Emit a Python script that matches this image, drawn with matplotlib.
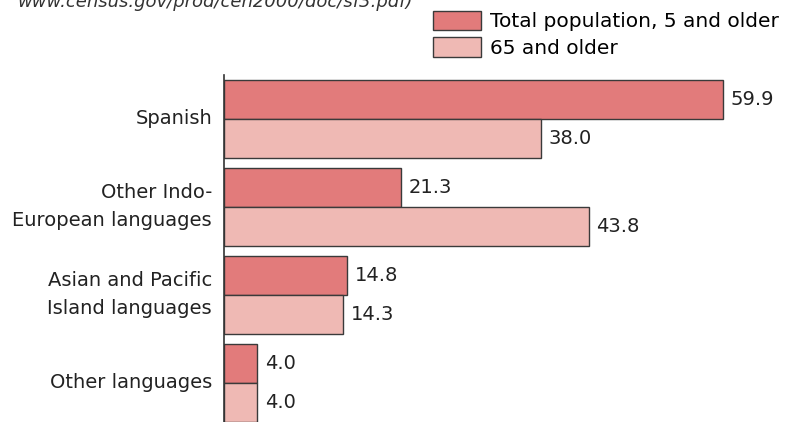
import matplotlib
matplotlib.use("Agg")
import matplotlib.pyplot as plt
import numpy as np

categories = ["Spanish", "Other Indo-\nEuropean languages", "Asian and Pacific\nIsland languages", "Other languages"]
total_5_older = [59.9, 21.3, 14.8, 4.0]
age_65_older = [38.0, 43.8, 14.3, 4.0]
series_labels = ["Total population, 5 and older", "65 and older"]
source_text = "www.census.gov/prod/cen2000/doc/sf3.pdf)"

W, H = 788, 422
plt.rcParams['font.family'] = ['DejaVu Sans']
fig = plt.figure(figsize=(W / 100, H / 100), dpi=100)

FS = 14
left_px = 224
top_px = 75
ax = fig.add_axes([left_px / W, 0, (W - left_px) / W, (H - top_px) / H])

px_per_unit = 499 / 59.9
ax.set_xlim(0, (W - left_px) / px_per_unit)
ax.set_ylim(3 + 39 / 88, -0.5)

c1 = "#E27B7B"
c2 = "#EFB9B4"
edge = "#3a3a3a"
bh = 39 / 88
y = np.arange(len(categories))
b1 = ax.barh(y - bh / 2, total_5_older, height=bh, color=c1, edgecolor=edge, linewidth=1.0, label=series_labels[0])
b2 = ax.barh(y + bh / 2, age_65_older, height=bh, color=c2, edgecolor=edge, linewidth=1.0, label=series_labels[1])

for bars, vals in ((b1, total_5_older), (b2, age_65_older)):
    for rect, v in zip(bars, vals):
        ax.text(v + 0.9, rect.get_y() + rect.get_height() / 2, f"{v:.1f}",
                va="center", ha="left", fontsize=FS, color="#222222")

ax.set_yticks(y)
ax.set_yticklabels(categories, fontsize=FS, color="#222222", ha="right", va="center", linespacing=1.6)
ax.tick_params(axis="y", length=0, pad=8.6)
ax.set_xticks([])
for s in ("top", "right", "bottom"):
    ax.spines[s].set_visible(False)
ax.spines["left"].set_color("#333333")
ax.spines["left"].set_linewidth(1.2)

leg = fig.legend(handles=[b1, b2], labels=series_labels, loc="upper left",
                 bbox_to_anchor=(433 / W, 1 - 11 / H), frameon=False, fontsize=14.5,
                 handlelength=2.4, handleheight=1.08, handletextpad=0.45,
                 labelspacing=0.3, borderpad=0.0, borderaxespad=0)

fig.text(17 / W, 1 - 7 / H, source_text, fontsize=13, style="italic",
         color="#333333", ha="left", va="baseline")

fig.savefig("out.png", dpi=100)
